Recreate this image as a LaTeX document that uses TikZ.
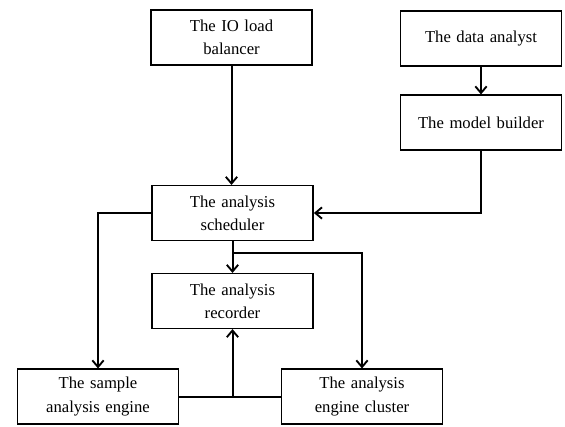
\documentclass[tikz,border=0pt]{standalone}
\usepackage{fontspec}
\setmainfont{Liberation Serif}
\usetikzlibrary{arrows.meta,calc}
\begin{document}
\begin{tikzpicture}[x=0.75pt,y=-0.75pt,
  block/.style={draw,line width=1.1pt,minimum width=121pt,minimum height=41pt,
    inner sep=2pt,align=center,font=\fontsize{12.5}{17.5}\selectfont,text width=117pt},
  link/.style={line width=1.5pt,-{Straight Barb[length=5pt,width=8.5pt,line width=1.4pt]}},
  wire/.style={line width=1.5pt}]
\useasboundingbox (0,0) rectangle (565,426);
% boxes
\node[block] (io) at (231.5,37.5) {The IO load\\balancer};
\node[block] (analyst) at (481,38.5) {The data analyst};
\node[block] (builder) at (481,122.5) {The model builder};
\node[block] (sched) at (232.5,213) {The analysis\\scheduler};
\node[block] (rec) at (232.5,301) {The analysis\\recorder};
\node[block] (sample) at (98,396.5) {The sample\\analysis engine};
\node[block] (cluster) at (362,396.5) {The analysis\\engine cluster};
% connectors
\draw[link] (io.south) -- (sched.north -| io.south);
\draw[link] (analyst.south) -- (builder.north);
\draw[link] (builder.south) |- (sched.east);
\draw[link] (sched.west) -| (sample.north);
\draw[link] (sched.south) -- (rec.north);
\coordinate (split) at ($(sched.south)+(0,12)$);
\draw[link] (split) -| (cluster.north);
\draw[wire] (sample.east) -- (cluster.west);
\draw[link] (sample.east -| rec.south) -- (rec.south);
\end{tikzpicture}
\end{document}
